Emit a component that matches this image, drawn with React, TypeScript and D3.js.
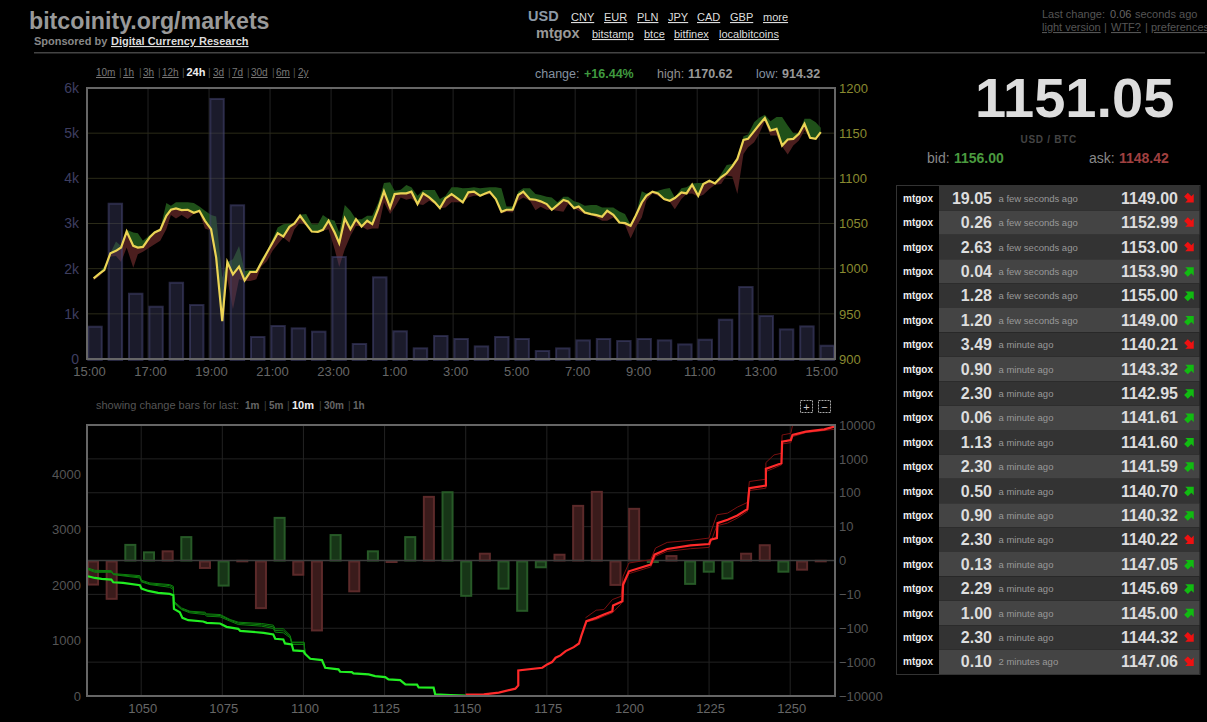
import { useEffect, useRef } from "react";
import * as d3 from "d3";

const WIDTH = 1207;
const HEIGHT = 722;
const FONT = "Arial, 'Liberation Sans', sans-serif";

const TOP = { left: 87, right: 835, top: 88, bottom: 359 };
const BOTTOM = { left: 87, right: 835, top: 425, bottom: 696 };

// volume per 40 minute bucket, starting 15:00
const volumeBars = [
  737, 3460, 1467, 1180, 1710, 1217, 5780, 3425, 509, 752, 700, 627, 2280, 354, 1830, 635, 258, 531,
  465, 301, 509, 465, 199, 257, 434, 465, 420, 465, 434, 345, 449, 892, 1615, 973, 677, 744, 316,
];

// minutes after 15:00
const priceMinutes = [
  13.8, 25, 34.8, 46.5, 57.7, 67.5, 78.7, 91.8, 100.3, 110.2, 123.3, 133.1, 144.9, 156, 165.9, 175.7, 186.9, 198.7,
  210.5, 221.6, 232.8, 244.6, 254.4, 266.2, 276, 287.2, 299, 310.1, 321.3, 333.1, 343, 354.1, 365.9, 375.7, 386.9,
  398.7, 408.5, 419.6, 431.5, 442.6, 454.4, 464.2, 475.4, 487.2, 496.4, 507.5, 518.7, 529.1, 540.3, 551.4, 561.9,
  573.1, 584.2, 596, 605.9, 617, 628.8, 638.6, 650.4, 661.6, 673.4, 684.5, 694.4, 705.5, 717.3, 728.5, 739, 750.1,
  761.9, 773.1, 782.9, 792.7, 804.5, 815.7, 825.5, 837.3, 848.5, 858.3, 871.4, 882.6, 892.4, 904.2, 914, 925.2, 937,
  946.8, 958.6, 967.8, 979.6, 991.4, 1002.5, 1013.7, 1023.5, 1035.3, 1047.1, 1058.3, 1069.4, 1079.9, 1091, 1100.9,
  1112.7, 1123.8, 1135.6, 1146.8, 1156.6, 1169.7, 1179.6, 1190.7, 1202.5, 1212.3, 1224.2, 1235.3, 1247.1, 1258.2,
  1269.4, 1279.2, 1291, 1300.9, 1312, 1322.5, 1333.6, 1344.8, 1356.6, 1367.7, 1378.2, 1389.4, 1400.5, 1411, 1422.2,
  1433.3, 1443.8,
];
const lastPrices = [
  989.3, 994.8, 998.5, 1017.1, 1019.7, 1023.4, 1041.1, 1025.2, 1023.4, 1024.1, 1034.5, 1040, 1043, 1058.6, 1065.2, 1066.7, 1064.9, 1065.2,
  1061.9, 1064.1, 1053, 1043.7, 1012.3, 941.9, 1007.4, 993.7, 1002.3, 987.1, 996.3, 996.3, 1006.7, 1017.8, 1028.9, 1039.3, 1035.6,
  1046.3, 1050, 1058.6, 1049.3, 1041.1, 1040.8, 1043, 1053, 1040, 1028.2, 1055.6, 1043.7, 1054.8, 1046.7, 1053, 1049.3,
  1066.7, 1085.6, 1067.8, 1082.6, 1083.4, 1083.4, 1085.2, 1071.5, 1083.4, 1078.9, 1073.4, 1067, 1077.8, 1082.6, 1078.2, 1073.4, 1084.5,
  1085.2, 1080.8, 1083, 1085.2, 1077, 1063, 1065.2, 1065.2, 1081.5, 1085.2, 1077, 1076.3, 1074.5, 1071.5, 1065.2, 1070.4, 1076,
  1074.5, 1067, 1068.9, 1062.2, 1060.4, 1059.3, 1057.4, 1064.1, 1059.6, 1051.1, 1050.4, 1047.4, 1058.5, 1073.3, 1080.7,
  1085.2, 1083.3, 1077, 1075.2, 1078.2, 1084.4, 1083.3, 1093, 1080.7, 1093.7, 1097.4, 1094.4, 1101.1, 1105.6,
  1113.3, 1121.5, 1142.6, 1143.7, 1152.2, 1159.3, 1166.7, 1153, 1154.8, 1136.3, 1143, 1143.7, 1149.3, 1160.4, 1144.8,
  1143.7, 1151.1,
];
const highPrices = [
  989.3, 996.3, 1002.3, 1017.1, 1030, 1025.2, 1043, 1040, 1039.3, 1030.8, 1037.1, 1041.1, 1043.7, 1072.6, 1069.7, 1073.4, 1073.4, 1073.4,
  1072.6, 1068.9, 1064.1, 1059.3, 1057.8, 990, 1007.4, 1010.4, 1025.2, 997.4, 998.5, 998.5, 1010.4, 1019.7, 1032.6, 1045.6, 1049.3,
  1050, 1050, 1059.7, 1060.4, 1049.3, 1049.3, 1059.3, 1054.9, 1053, 1040, 1070.4, 1064.1, 1054.8, 1054.8, 1058.6, 1058.6,
  1073.4, 1094.8, 1095.6, 1086.3, 1087.4, 1092.6, 1090, 1080.8, 1087.1, 1087.1, 1087.1, 1077, 1080.8, 1090, 1090, 1088.9, 1089.3,
  1090, 1088.9, 1089.7, 1090, 1090, 1088.9, 1068.9, 1068.9, 1085.2, 1088.9, 1088.9, 1082.6, 1081.5, 1079.7, 1078.9, 1073.4, 1079.7,
  1079.7, 1074.5, 1073.3, 1069.6, 1070.4, 1070.4, 1067.8, 1067.8, 1067.8, 1063.3, 1060.4, 1048.5, 1058.5, 1085.6, 1083.3,
  1085.2, 1086.3, 1088.1, 1089.3, 1078.9, 1088.9, 1090, 1094.4, 1094.8, 1094.8, 1098.5, 1095.6, 1104.8, 1114.8,
  1115.9, 1123.3, 1146.7, 1148.5, 1162.2, 1167, 1170.4, 1163.3, 1167.8, 1167.8, 1158.5, 1150, 1150, 1165.9, 1165.9,
  1162.2, 1155.9,
];
const lowPrices = [
  987.1, 991.9, 997.4, 1013.4, 1014.1, 1007.4, 1023.4, 1001.1, 1016, 1018.6, 1023.4, 1027.1, 1030.8, 1043.7, 1059.3, 1055.6, 1059.3, 1054.9,
  1060.4, 1062.3, 1044.5, 1041.9, 1012.3, 941.9, 988.2, 954.8, 988.2, 986.3, 986.3, 988.2, 1002.3, 1008.6, 1019.7, 1027.1, 1034.5,
  1028.9, 1043.7, 1051.1, 1048.2, 1041.1, 1040.8, 1041.9, 1043.7, 1021.5, 1001.9, 1021.5, 1036.3, 1047.4, 1046.7, 1043, 1044.5,
  1044.5, 1073.4, 1060.4, 1067.8, 1078.9, 1076.3, 1077.8, 1071.5, 1070.4, 1075.2, 1071.5, 1067, 1067.8, 1073.4, 1073.4, 1073.4, 1078.9,
  1080.8, 1080.8, 1081.5, 1082.6, 1076.3, 1061.1, 1063, 1062.2, 1075.2, 1078.9, 1075.2, 1064.8, 1068.5, 1065.2, 1065.2, 1064.1, 1063,
  1071.5, 1067, 1064.1, 1060.4, 1059.3, 1056.7, 1053, 1053, 1056.7, 1050.4, 1048.5, 1033.3, 1045.5, 1056.7, 1075.2,
  1083.3, 1080.7, 1075.9, 1074.1, 1065.9, 1077, 1082.6, 1083.3, 1079.6, 1081.9, 1088.1, 1093, 1093.7, 1103,
  1101.9, 1082.6, 1127, 1134.4, 1140, 1149.3, 1163.3, 1147.4, 1147.4, 1135.2, 1126.3, 1136.3, 1141.9, 1153, 1144.8,
  1143.7, 1151.1,
];

// change bars, one per price bucket
const changeValues = [
  -7.1, -21.8, 4.9, 2.7, 3, 7.2, -2.2, -7.4, 0.2, -46.5, 35.9, -4.2, -158, 7.8, -9.1, 3, -0.4, 7.2, 91.7, 140,
  -13.8, 2.3, -8.3, -53.6, -2, 2, 67.8, 150, -7.2, 59.9, -0.3, 1.6, -6.9, -3.3, -5.3, 2.3, 4.8, -3.3, -2.7, 0.2,
];
const changeSides = "rrggrgrgrrgrrgrgrgrggrgggrrrrrgrgggrrgrr".split("");

// order book depth, bright = now
const bidPrices = [
  1033.6, 1035.7, 1037.8, 1040.8, 1041.4, 1044.4, 1049.6, 1050.1, 1052.2, 1055.2, 1058.8, 1059.9, 1060.1, 1061.9, 1062.7, 1064.5,
  1069.1, 1070.2, 1074.3, 1076.3, 1079.9, 1080.5, 1087.7, 1090.7, 1091.3, 1093.8, 1094.3, 1096.4, 1096.9, 1100, 1100.5, 1102.1,
  1105.7, 1106.7, 1110.8, 1111.3, 1114.9, 1115.4, 1120.1, 1122.1, 1125.2, 1126.2, 1129.8, 1131.4, 1135, 1135.5, 1140.1, 1140.6, 1145.3, 1150,
];
const bidDepth = [
  2160, 2130, 2112, 2100, 2052, 2040, 1998, 1938, 1896, 1860, 1842, 1818, 1572, 1512, 1410, 1368,
  1344, 1320, 1308, 1248, 1212, 1176, 1140, 1110, 1032, 1020, 948, 930, 822, 810, 762, 672,
  648, 510, 480, 438, 432, 408, 390, 360, 342, 300, 288, 210, 204, 156, 150, 30, 18, 6,
];
const oldBidPrices = [
  1033.6, 1035.7, 1040.8, 1041.4, 1049.6, 1050.1, 1052.7, 1058.8, 1059.9, 1060.1, 1062.4, 1065, 1069.6, 1070.2, 1074.3, 1077.4,
  1079.9, 1087.1, 1090.7, 1091.3, 1093.8, 1095.9, 1096.4, 1100.2, 1100.5,
];
const oldBidDepthA = [
  2310, 2268, 2262, 2208, 2172, 2088, 2040, 2010, 1980, 1710, 1590, 1530, 1512, 1482, 1470, 1380,
  1332, 1308, 1278, 1212, 1212, 1092, 972, 972, 762,
];
const oldBidDepthB = [
  2280, 2232, 2232, 2190, 2130, 2058, 2010, 1962, 1920, 1680, 1560, 1500, 1470, 1440, 1428, 1350,
  1290, 1260, 1218, 1152, 1140, 1050, 930, 930, 762,
];
const oldBidDepthC = [
  2292, 2250, 2246, 2196, 2150, 2070, 2022, 1992, 1950, 1692, 1572, 1518, 1494, 1464, 1452, 1368,
  1314, 1284, 1248, 1182, 1176, 1074, 960, 960, 762,
];
const askPrices = [
  1150, 1155.6, 1160.2, 1165.3, 1166.2, 1166.2, 1173.6, 1175.1, 1176.6, 1177.7, 1179.2, 1180.8, 1183.3, 1184.9, 1185.6, 1187.2,
  1190.2, 1192.6, 1195.2, 1195.4, 1198.3, 1198.5, 1200.3, 1207, 1208.2, 1212.1, 1219.3, 1225, 1225.5, 1227.4, 1227.6, 1230.7,
  1233.7, 1236.8, 1237.4, 1242.5, 1242.5, 1244.5, 1247.3, 1247.5, 1250.2, 1250.7, 1254.8, 1260.5, 1263.6,
];
const askDepth = [
  24, 30, 60, 132, 192, 462, 510, 570, 612, 690, 732, 810, 882, 948, 1080, 1350,
  1410, 1470, 1530, 1632, 1710, 2010, 2250, 2370, 2550, 2652, 2718, 2742, 2820, 2850, 3120, 3180,
  3258, 3372, 3750, 3798, 4098, 4140, 4200, 4590, 4620, 4710, 4770, 4812, 4860,
];
const oldAskPricesA = [
  1186.9, 1190.2, 1192.6, 1195.2, 1197.9, 1198.5, 1200.3, 1207, 1208.5, 1212.1, 1219.3, 1225, 1225.5, 1227.4, 1230.7, 1233.7,
  1236.8, 1237.4, 1242.5, 1242.5, 1245, 1247.3, 1247.5, 1250.2, 1250.7,
];
const oldAskDepthA = [
  1410, 1548, 1560, 1740, 1800, 2160, 2400, 2460, 2670, 2772, 2808, 2850, 2952, 3270, 3300, 3408,
  3492, 3870, 3912, 4212, 4350, 4380, 4710, 4740, 4880,
];
const oldAskPricesB = [
  1186.9, 1190.2, 1192.6, 1195.2, 1197.9, 1198.5, 1200.3, 1207, 1208.5, 1212.1, 1219.3, 1225, 1225.5, 1227.4, 1230.7, 1233.7,
  1236.8, 1237.4, 1242.5, 1242.5, 1244.5, 1247.3, 1247.5, 1250.2, 1250.7, 1254.8, 1263.6,
];
const oldAskDepthB = [
  1332, 1380, 1440, 1500, 1662, 1980, 2208, 2328, 2520, 2610, 2658, 2682, 2772, 3072, 3120, 3210,
  3330, 3708, 3750, 4050, 4098, 4170, 4548, 4572, 4680, 4752, 4812,
];

// trades list
const tradeAmounts = ["19.05", "0.26", "2.63", "0.04", "1.28", "1.20", "3.49", "0.90", "2.30", "0.06", "1.13", "2.30", "0.50", "0.90", "2.30", "0.13", "2.29", "1.00", "2.30", "0.10"];
const tradeAges = [
  "a few seconds ago", "a few seconds ago", "a few seconds ago", "a few seconds ago", "a few seconds ago", "a few seconds ago",
  "a minute ago", "a minute ago", "a minute ago", "a minute ago", "a minute ago", "a minute ago", "a minute ago", "a minute ago",
  "a minute ago", "a minute ago", "a minute ago", "a minute ago", "a minute ago", "2 minutes ago",
];
const tradePrices = ["1149.00", "1152.99", "1153.00", "1153.90", "1155.00", "1149.00", "1140.21", "1143.32", "1142.95", "1141.61", "1141.60", "1141.59", "1140.70", "1140.32", "1140.22", "1147.05", "1145.69", "1145.00", "1144.32", "1147.06"];
const tradeUp = [0, 0, 0, 1, 1, 1, 0, 1, 1, 1, 1, 1, 1, 1, 0, 1, 1, 1, 0, 0];

const rangeLinks: [string, number, boolean][] = [["10m", 96, false], ["1h", 123, false], ["3h", 143, false], ["12h", 162, false], ["24h", 186.5, true], ["3d", 213, false], ["7d", 232, false], ["30d", 251, false], ["6m", 276, false], ["2y", 298, false]];
const rangeSeps = [119, 139, 158, 182, 208, 228, 247, 272, 293];
const barLinks: [string, number, boolean][] = [["1m", 245, false], ["5m", 269, false], ["10m", 292, true], ["30m", 324, false], ["1h", 353, false]];
const barSeps = [264, 287, 319, 348];
const currencyLinks: [string, number][] = [["CNY", 571], ["EUR", 604], ["PLN", 637], ["JPY", 668], ["CAD", 697], ["GBP", 730], ["more", 763]];
const marketLinks: [string, number][] = [["bitstamp", 592], ["btce", 644], ["bitfinex", 674], ["localbitcoins", 719]];

type Sel = d3.Selection<any, any, any, any>;
type TextOpts = { size?: number; color?: string; bold?: boolean; link?: boolean; anchor?: string; spacing?: number };

function put(g: Sel, x: number, y: number, text: string, o: TextOpts = {}) {
  return g
    .append("text")
    .attr("x", x)
    .attr("y", y)
    .attr("font-family", FONT)
    .attr("font-size", o.size ?? 11)
    .attr("font-weight", o.bold ? "bold" : "normal")
    .attr("fill", o.color ?? "#ddd")
    .attr("text-anchor", o.anchor ?? "start")
    .attr("letter-spacing", o.spacing ?? 0)
    .attr("text-decoration", o.link ? "underline" : "none")
    .text(text);
}

function styleAxis(g: Sel, color: string, size: number) {
  g.select(".domain").remove();
  g.selectAll(".tick line").remove();
  g.selectAll("text").attr("fill", color).attr("font-size", size).attr("font-family", FONT);
}

function drawHeader(svg: Sel) {
  put(svg, 29, 29, "bitcoinity.org/markets", { size: 23.2, bold: true, color: "#999" });
  put(svg, 34, 45, "Sponsored by ", { size: 11, bold: true, color: "#888" });
  put(svg, 111, 45, "Digital Currency Research", { size: 11, bold: true, color: "#ddd", link: true });
  svg.append("rect").attr("x", 34).attr("y", 52).attr("width", 1171).attr("height", 1.5).attr("fill", "#444");

  put(svg, 528, 21, "USD", { size: 14.5, bold: true, color: "#8c99a6" });
  currencyLinks.forEach(([t, x]) => put(svg, x, 21, t, { link: true }));
  put(svg, 536, 38, "mtgox", { size: 14.5, bold: true, color: "#999" });
  marketLinks.forEach(([t, x]) => put(svg, x, 38, t, { link: true }));

  put(svg, 1042, 18, "Last change: ", { color: "#555" });
  put(svg, 1110, 18, "0.06", { color: "#666" });
  put(svg, 1135, 18, "seconds ago", { color: "#555" });
  put(svg, 1042, 31, "light version", { color: "#555", link: true });
  put(svg, 1104, 31, "|", { color: "#555" });
  put(svg, 1111, 31, "WTF?", { color: "#555", link: true });
  put(svg, 1145, 31, "|", { color: "#555" });
  put(svg, 1151, 31, "preferences", { color: "#555", link: true });

  rangeLinks.forEach(([t, x, on]) => put(svg, x, 76, t, on ? { size: 11, bold: true, color: "#eee" } : { size: 10, color: "#777", link: true }));
  rangeSeps.forEach((x) => put(svg, x, 76, "|", { size: 10, color: "#555" }));

  put(svg, 535, 78, "change:", { size: 12.5, color: "#8592a0" });
  put(svg, 584, 78, "+16.44%", { size: 12.5, bold: true, color: "#3f9a3f" });
  put(svg, 657, 78, "high:", { size: 12.5, color: "#8f8f8f" });
  put(svg, 688, 78, "1170.62", { size: 12.5, bold: true, color: "#999" });
  put(svg, 756, 78, "low:", { size: 12.5, color: "#8592a0" });
  put(svg, 782, 78, "914.32", { size: 12.5, bold: true, color: "#999" });

  put(svg, 96, 409, "showing change bars for last:", { size: 11, color: "#555" });
  barLinks.forEach(([t, x, on]) => put(svg, x, 409, t, on ? { size: 11, bold: true, color: "#eee" } : { size: 10, bold: true, color: "#666" }));
  barSeps.forEach((x) => put(svg, x, 409, "|", { size: 10, color: "#444" }));

  [["+", 800.5], ["\u2212", 818.5]].forEach(([t, x]) => {
    svg.append("rect").attr("x", x as number).attr("y", 400.5).attr("width", 12).attr("height", 12)
      .attr("fill", "none").attr("stroke", "#aaa").attr("stroke-width", 1).attr("stroke-dasharray", "2,1");
    put(svg, (x as number) + 6, 410.5, t as string, { size: 11, color: "#ccc", anchor: "middle" });
  });
}

function drawTicker(svg: Sel) {
  put(svg, 975, 117, "1151.05", { size: 56, bold: true, color: "#ddd" });
  put(svg, 1020.5, 143, "USD / BTC", { size: 10, bold: true, color: "#444", spacing: 0.7 });
  put(svg, 927, 163, "bid:", { size: 14, color: "#888" });
  put(svg, 954, 163, "1156.00", { size: 14, bold: true, color: "#4a9a3f" });
  put(svg, 1089, 163, "ask:", { size: 14, color: "#888" });
  put(svg, 1119, 163, "1148.42", { size: 14, bold: true, color: "#a04040" });
}

function drawTrades(svg: Sel) {
  const y = d3.scaleBand<number>().domain(d3.range(tradeAmounts.length)).range([186, 674]);
  const g = svg.append("g");
  g.append("rect").attr("x", 896.5).attr("y", 185.5).attr("width", 303.5).attr("height", 489)
    .attr("fill", "#000").attr("stroke", "#333");
  tradeAmounts.forEach((amount, i) => {
    const top = y(i) as number;
    const mid = top + y.bandwidth() / 2;
    g.append("rect").attr("x", 939).attr("y", top).attr("width", 260.5).attr("height", y.bandwidth())
      .attr("fill", i % 2 ? "#444" : "#333");
    put(g, 918, mid + 3.5, "mtgox", { size: 10, bold: true, color: "#eee", anchor: "middle" });
    put(g, 992, mid + 5.5, amount, { size: 16, bold: true, color: "#ddd", anchor: "end" });
    put(g, 998.5, mid + 3.5, tradeAges[i], { size: 9.5, color: "#999" });
    put(g, 1178, mid + 5.5, tradePrices[i], { size: 16, bold: true, color: "#ddd", anchor: "end" });
    g.append("path")
      .attr("d", "M0,-6 L6,0 L2.6,0 L2.6,5 L-2.6,5 L-2.6,0 L-6,0 Z")
      .attr("transform", `translate(1189.5,${mid}) rotate(${tradeUp[i] ? 45 : 135})`)
      .attr("fill", tradeUp[i] ? "#11bb11" : "#ee1111");
  });
}

function drawPriceChart(svg: Sel) {
  const base = new Date(Date.UTC(2013, 10, 28, 15));
  const at = (m: number) => d3.utcMinute.offset(base, m);
  const x = d3.scaleUtc().domain([base, at(1471.5)]).range([TOP.left, TOP.right]);
  const yVol = d3.scaleLinear().domain([0, 6000]).range([TOP.bottom, TOP.top]);
  const yPrice = d3.scaleLinear().domain([900, 1200]).range([TOP.bottom, TOP.top]);
  const g = svg.append("g");

  const hours = d3.range(13).map((i) => d3.utcHour.offset(base, i * 2));
  g.selectAll(".vgrid").data(hours).join("line").attr("x1", (d) => x(d)).attr("x2", (d) => x(d))
    .attr("y1", TOP.top).attr("y2", TOP.bottom).attr("stroke", "#222");
  g.selectAll(".hgrid").data(yVol.ticks(6)).join("line").attr("x1", TOP.left).attr("x2", TOP.right)
    .attr("y1", (d) => yVol(d)).attr("y2", (d) => yVol(d)).attr("stroke", "#2b2b18");

  const rows = priceMinutes.map((m, i) => ({ t: at(m), last: lastPrices[i], high: highPrices[i], low: lowPrices[i] }));
  const band = d3.area<(typeof rows)[0]>().x((d) => x(d.t)).y0((d) => yPrice(d.last));
  g.append("path").attr("d", band.y1((d) => yPrice(d.high))(rows)).attr("fill", "#1f5019");
  g.append("path").attr("d", band.y1((d) => yPrice(d.low))(rows)).attr("fill", "#4b1e1e");

  const bucket = x(at(40)) - x(base);
  g.selectAll(".vol").data(volumeBars).join("rect")
    .attr("x", (_, i) => x(at(40 * i)) + 1.3)
    .attr("y", (d) => yVol(d) + 1)
    .attr("width", bucket - 6.9)
    .attr("height", (d) => TOP.bottom - yVol(d))
    .attr("fill", "rgba(60,60,95,0.45)")
    .attr("stroke", "rgba(70,70,115,0.55)")
    .attr("stroke-width", 2);

  const line = d3.line<(typeof rows)[0]>().x((d) => x(d.t)).y((d) => yPrice(d.last));
  g.append("path").attr("d", line(rows)).attr("fill", "none").attr("stroke", "#ecd455").attr("stroke-width", 2.2);

  g.append("rect").attr("x", TOP.left).attr("y", TOP.top).attr("width", TOP.right - TOP.left).attr("height", TOP.bottom - TOP.top)
    .attr("fill", "none").attr("stroke", "#666").attr("stroke-width", 2);

  g.append("g").attr("transform", `translate(${TOP.left},0)`)
    .call(d3.axisLeft(yVol).ticks(6).tickSize(0).tickPadding(8).tickFormat((d) => (+d === 0 ? "0" : `${+d / 1000}k`)))
    .call(styleAxis, "#3e3e60", 14);
  g.append("g").attr("transform", `translate(${TOP.right},0)`)
    .call(d3.axisRight(yPrice).ticks(6).tickSize(0).tickPadding(4).tickFormat(d3.format("d")))
    .call(styleAxis, "#8a8a30", 13);
  g.append("g").attr("transform", `translate(0,${TOP.bottom})`)
    .call(d3.axisBottom(x).tickValues(hours).tickSize(0).tickPadding(8).tickFormat((d) => d3.utcFormat("%-H:%M")(d as Date)))
    .call(styleAxis, "#666", 13)
    .selectAll("text").attr("dx", 2);
}

function drawDepthChart(svg: Sel) {
  const x = d3.scaleLinear().domain([1033.3, 1263.8]).range([BOTTOM.left, BOTTOM.right]);
  const yDepth = d3.scaleLinear().domain([0, 4890]).range([BOTTOM.bottom, BOTTOM.top]);
  const changeTicks = [-10000, -1000, -100, -10, 0, 10, 100, 1000, 10000];
  const yChange = d3.scaleLinear().domain(changeTicks)
    .range(changeTicks.map((_, i) => BOTTOM.bottom - (i * (BOTTOM.bottom - BOTTOM.top)) / 8));
  const g = svg.append("g");

  const priceTicks = d3.range(1050, 1251, 25);
  g.selectAll(".vgrid").data(priceTicks).join("line").attr("x1", (d) => x(d)).attr("x2", (d) => x(d))
    .attr("y1", BOTTOM.top).attr("y2", BOTTOM.bottom).attr("stroke", "#222");
  g.selectAll(".hgrid").data(changeTicks).join("line").attr("x1", BOTTOM.left).attr("x2", BOTTOM.right)
    .attr("y1", (d) => yChange(d)).attr("y2", (d) => yChange(d)).attr("stroke", "#222");

  const barW = x(1038.4) - x(1035);
  const zero = yChange(0);
  g.selectAll(".chg").data(changeValues).join("rect")
    .attr("x", (_, i) => x(1035 + 5.75 * i) - barW / 2 + 1)
    .attr("y", (d) => Math.min(zero, yChange(d)) + 1)
    .attr("width", barW - 1)
    .attr("height", (d) => Math.max(Math.abs(yChange(d) - zero) - 1, 0.5))
    .attr("fill", (_, i) => (changeSides[i] === "r" ? "#3a1b1b" : "#173517"))
    .attr("stroke", (_, i) => (changeSides[i] === "r" ? "#5c2a2a" : "#275a27"))
    .attr("stroke-width", 2);
  g.append("line").attr("x1", BOTTOM.left).attr("x2", BOTTOM.right).attr("y1", zero).attr("y2", zero)
    .attr("stroke", "#3c3c3c").attr("stroke-width", 1.5);

  svg.append("clipPath").attr("id", "depth-clip").append("rect")
    .attr("x", BOTTOM.left).attr("y", BOTTOM.top).attr("width", BOTTOM.right - BOTTOM.left).attr("height", BOTTOM.bottom - BOTTOM.top);
  const lines = g.append("g").attr("clip-path", "url(#depth-clip)");
  const depthLine = d3.line<[number, number]>().x((d) => x(d[0])).y((d) => yDepth(d[1]));
  const draw = (px: number[], dy: number[], color: string, w: number) =>
    lines.append("path").attr("d", depthLine(d3.zip(px, dy) as [number, number][]))
      .attr("fill", "none").attr("stroke", color).attr("stroke-width", w);

  draw(oldBidPrices, oldBidDepthA, "#0d800d", 1);
  draw(oldBidPrices, oldBidDepthB, "#0d800d", 1);
  draw(oldBidPrices, oldBidDepthC, "#0d800d", 1);
  draw(oldAskPricesA, oldAskDepthA, "#7a1010", 1);
  draw(oldAskPricesB, oldAskDepthB, "#7a1010", 1);
  draw(bidPrices, bidDepth, "#22ee22", 2.2);
  draw(askPrices, askDepth, "#ff2a2a", 2.2);

  g.append("rect").attr("x", BOTTOM.left).attr("y", BOTTOM.top).attr("width", BOTTOM.right - BOTTOM.left).attr("height", BOTTOM.bottom - BOTTOM.top)
    .attr("fill", "none").attr("stroke", "#666").attr("stroke-width", 2);

  g.append("g").attr("transform", `translate(${BOTTOM.left},0)`)
    .call(d3.axisLeft(yDepth).tickValues([0, 1000, 2000, 3000, 4000]).tickSize(0).tickPadding(6).tickFormat(d3.format("d")))
    .call(styleAxis, "#555", 13);
  g.append("g").attr("transform", `translate(${BOTTOM.right},0)`)
    .call(d3.axisRight(yChange).tickValues(changeTicks).tickSize(0).tickPadding(4).tickFormat(d3.format("d")))
    .call(styleAxis, "#555", 13);
  g.append("g").attr("transform", `translate(0,${BOTTOM.bottom})`)
    .call(d3.axisBottom(x).tickValues(priceTicks).tickSize(0).tickPadding(8).tickFormat(d3.format("d")))
    .call(styleAxis, "#666", 13)
    .selectAll("text").attr("dx", 1);
}

export default function App() {
  const svgRef = useRef<SVGSVGElement>(null);

  useEffect(() => {
    if (!svgRef.current) return;
    const svg = d3.select(svgRef.current);
    svg.selectAll("*").remove();
    svg.append("rect").attr("width", WIDTH).attr("height", HEIGHT).attr("fill", "#000");
    drawHeader(svg);
    drawPriceChart(svg);
    drawDepthChart(svg);
    drawTicker(svg);
    drawTrades(svg);
  }, []);

  return (
    <svg
      ref={svgRef}
      width={WIDTH}
      height={HEIGHT}
      style={{ position: "fixed", left: 0, top: 0, display: "block" }}
    />
  );
}
